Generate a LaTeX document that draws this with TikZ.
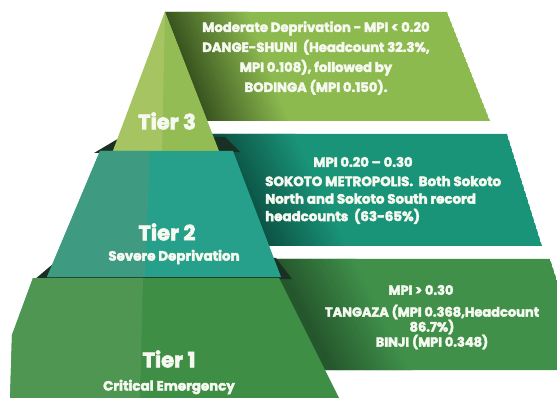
\documentclass[tikz,border=0pt]{standalone}
\usepackage{fontspec}
\setmainfont{Poppins}[BoldFeatures={FakeBold=3}]
\definecolor{tThreeL}{HTML}{A6C562}
\definecolor{tThreeR}{HTML}{93BC55}
\definecolor{bThree}{HTML}{8DBA4F}
\definecolor{bThreeD}{HTML}{3A5620}
\definecolor{tTwoL}{HTML}{3E9A80}
\definecolor{tTwoR}{HTML}{26A08A}
\definecolor{bTwo}{HTML}{1A9479}
\definecolor{bTwoD}{HTML}{0B5042}
\definecolor{tOneL}{HTML}{4E9651}
\definecolor{tOneR}{HTML}{3F8E46}
\definecolor{bOne}{HTML}{40904A}
\definecolor{bOneD}{HTML}{24552C}
\definecolor{lipcol}{HTML}{1B3024}
\definecolor{txtcol}{HTML}{F6F9F0}
\newcommand\bannershade[6]{%
  \fill[#5] (0,#3) -- (#1,#3) -- (#2,#4) -- (0,#4) -- cycle;
  \foreach \i in {0,...,29}{%
    \pgfmathsetmacro\offA{\i*2.8}%
    \pgfmathsetmacro\offB{\i*2.8+3.4}%
    \pgfmathtruncatemacro\pct{100*\i/29}%
    \fill[#6!\pct!#5] ({#1+\offA},#3) -- ({#1+\offB},#3) -- ({#2+\offB},#4) -- ({#2+\offA},#4) -- cycle;
  }%
}
\tikzset{
  bantext/.style={text=txtcol, inner sep=0pt, font=\bfseries\fontsize{13.2}{20}\selectfont, align=center},
  tiertext/.style={text=txtcol, inner sep=0pt, font=\bfseries\fontsize{21}{24}\selectfont},
  subtext/.style={text=txtcol, inner sep=0pt, font=\bfseries\fontsize{13.4}{15}\selectfont}
}
\begin{document}
\begin{tikzpicture}[x=1pt,y=-1pt]
\useasboundingbox (0,0) rectangle (557,398);
\fill[white] (0,0) rectangle (557,398);
\clip (0,0) rectangle (557,398);
% banner 3
\begin{scope}
\clip (165,12) -- (447,12) -- (490,121) -- (207,121) -- cycle;
\fill[bThree] (165,12) -- (447,12) -- (490,121) -- (207,121) -- cycle;
\bannershade{165}{207}{12}{121}{bThreeD}{bThree}
\end{scope}
% banner 2
\begin{scope}
\clip (200,134) -- (507,134) -- (542,246) -- (245,246) -- cycle;
\fill[bTwo] (200,134) -- (507,134) -- (542,246) -- (245,246) -- cycle;
\bannershade{212}{265}{134}{246}{bTwoD}{bTwo}
\end{scope}
% banner 1
\begin{scope}
\clip (250,259) -- (550,259) -- (586,370) -- (300,370) -- cycle;
\fill[bOne] (250,259) -- (550,259) -- (586,370) -- (300,370) -- cycle;
\bannershade{272}{328}{259}{370}{bOneD}{bOne}
\end{scope}
% lips
\fill[lipcol] (94,153) -- (121,137) -- (225,137) -- (240,152) -- cycle;
\fill[lipcol] (34,280) -- (60,258) -- (276,258) -- (292,279) -- cycle;
% tier 3
\fill[tThreeR] (165,12) -- (219,151) -- (113,151) -- cycle;
\fill[tThreeL] (165,12) -- (162,151) -- (113,151) -- cycle;
% tier 2
\fill[tTwoR] (100,151) -- (233,151) -- (281,277) -- (47,277) -- cycle;
\fill[tTwoL] (100,151) -- (150,151) -- (145,277) -- (47,277) -- cycle;
% tier 1
\fill[tOneR] (33,278) -- (279,278) -- (340,400) -- (10,400) -- (12,335) -- cycle;
\fill[tOneL] (33,278) -- (143,278) -- (140,400) -- (10,400) -- (12,335) -- cycle;
% banner texts
\node[bantext] (t3body) at (316,58) {Moderate Deprivation - MPI < 0.20\\DANGE-SHUNI~ (Headcount 32.3\%,\\MPI 0.108), followed by\\BODINGA (MPI 0.150).};
\node[bantext] (t2head) at (363,162) {MPI 0.20 -- 0.30};
\node[bantext, align=left, font=\bfseries\fontsize{13.4}{17.5}\selectfont, anchor=west] (t2body) at (265,200) {SOKOTO METROPOLIS.~ Both Sokoto\\North and Sokoto South record\\headcounts~ (63-65\%)};
\node[bantext, font=\bfseries\fontsize{13}{15}\selectfont] (t1head) at (421,290) {MPI > 0.30};
\node[bantext, font=\bfseries\fontsize{13}{15}\selectfont] (t1body) at (432,327) {TANGAZA (MPI 0.368,Headcount\\86.7\%)\\BINJI (MPI 0.348)};
% tier labels
\node[tiertext] (tier3) at (167,121) {Tier 3};
\node[tiertext] (tier2) at (167,232) {Tier 2};
\node[subtext] (sub2) at (174,257) {Severe Deprivation};
\node[tiertext] (tier1) at (169,359) {Tier 1};
\node[subtext] (sub1) at (169,387) {Critical Emergency};
\end{tikzpicture}
\end{document}
